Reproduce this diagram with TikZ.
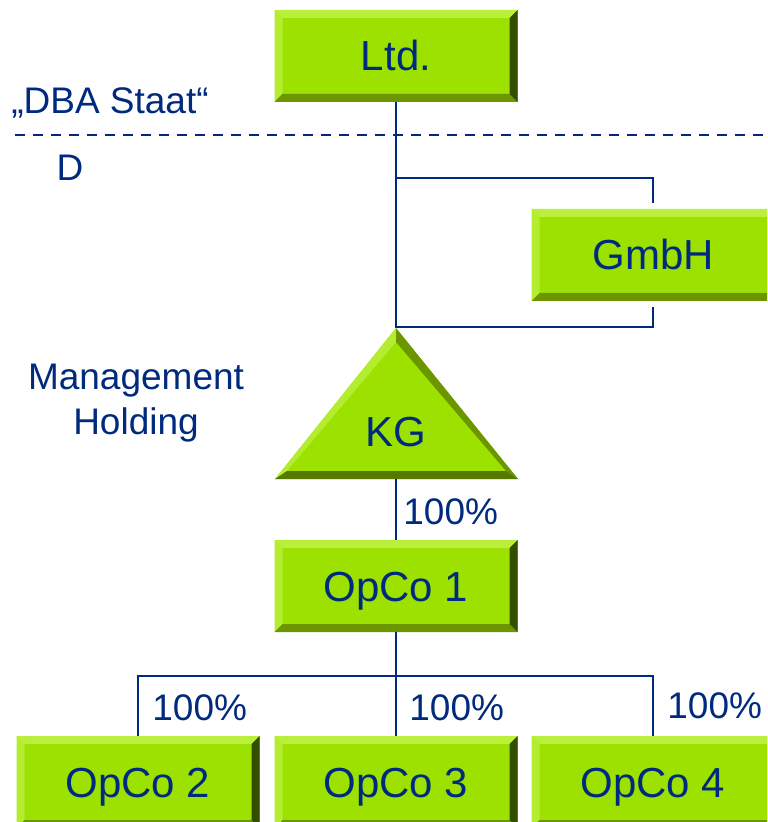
\documentclass[tikz,border=0pt]{standalone}
\usepackage{fontspec}
\setmainfont{Liberation Sans}
\definecolor{navy}{RGB}{0,42,125}
\definecolor{lime}{RGB}{156,225,0}
\definecolor{limelight}{RGB}{186,240,60}
\definecolor{limedark}{RGB}{108,150,0}
\definecolor{limedeep}{RGB}{52,78,0}
\tikzset{
  bevelcut/.style={
    path picture={
      \fill[limelight] (path picture bounding box.north west) -- (path picture bounding box.north east)
        -- ([shift={(0pt,-4pt)}]path picture bounding box.north east) -- ([shift={(4pt,-4pt)}]path picture bounding box.north west) -- cycle;
      \fill[limelight!80!lime] (path picture bounding box.north west) -- ([shift={(4pt,-4pt)}]path picture bounding box.north west)
        -- ([shift={(4pt,4pt)}]path picture bounding box.south west) -- (path picture bounding box.south west) -- cycle;
      \fill[limedark] (path picture bounding box.south west) -- (path picture bounding box.south east)
        -- ([shift={(0pt,4pt)}]path picture bounding box.south east) -- ([shift={(4pt,4pt)}]path picture bounding box.south west) -- cycle;
    }},
  bevel/.style={
    path picture={
      \fill[limelight] (path picture bounding box.north west) -- (path picture bounding box.north east)
        -- ([shift={(-4pt,-4pt)}]path picture bounding box.north east) -- ([shift={(4pt,-4pt)}]path picture bounding box.north west) -- cycle;
      \fill[limelight!80!lime] (path picture bounding box.north west) -- ([shift={(4pt,-4pt)}]path picture bounding box.north west)
        -- ([shift={(4pt,4pt)}]path picture bounding box.south west) -- (path picture bounding box.south west) -- cycle;
      \fill[limedark] (path picture bounding box.south west) -- (path picture bounding box.south east)
        -- ([shift={(-4pt,4pt)}]path picture bounding box.south east) -- ([shift={(4pt,4pt)}]path picture bounding box.south west) -- cycle;
      \fill[limedeep] (path picture bounding box.north east) -- (path picture bounding box.south east)
        -- ([shift={(-4pt,4pt)}]path picture bounding box.south east) -- ([shift={(-4pt,-4pt)}]path picture bounding box.north east) -- cycle;
    }},
  box/.style={bevel, fill=lime, minimum width=121.5pt, minimum height=46pt, inner sep=0pt,
    text height=15pt, text depth=0pt, text=navy, font=\fontsize{21}{25}\selectfont},
  lbl/.style={text=navy, inner sep=0pt, font=\fontsize{18.5}{22.5}\selectfont},
  conn/.style={draw=navy, line width=1pt},
}

\begin{document}
\begin{tikzpicture}[x=0.5pt,y=-0.5pt]
\useasboundingbox (0,0) rectangle (767,822);
\clip (0,0) rectangle (767,822);

% boxes
\draw (396,56) node[box](ltd) {Ltd.};
\draw (653,255) node[box,bevelcut](gmbh) {GmbH};
\draw (396,586) node[box](opco1) {OpCo 1};
\draw (138,782) node[box](opco2) {OpCo 2};
\draw (396,782) node[box](opco3) {OpCo 3};
\draw (653,782) node[box,bevelcut](opco4) {OpCo 4};

% KG triangle
\fill[lime] (396,328) -- (518,479) -- (275,479) -- cycle;
\fill[limelight!80!lime] (396,328) -- (275,479) -- (287,471) -- (396,342) -- cycle;
\fill[limedark] (396,328) -- (518,479) -- (506,471) -- (396,342) -- cycle;
\fill[limedark!80!black] (275,479) -- (518,479) -- (506,471) -- (287,471) -- cycle;
\draw (396,432) node[lbl,font=\fontsize{21}{25}\selectfont](kg) {KG};
\coordinate (apex) at (396,328);
\coordinate (kgbase) at (396,479);

% side texts
\draw (110,103) node[lbl](dba) {„DBA Staat“};
\draw (70,168) node[lbl](land) {D};
\draw (136,403) node[lbl,align=center](mgmt) {Management\\Holding};
\draw[navy, line width=1pt, dash pattern=on 5pt off 4pt] (15,135) -- (767,135);

% connectors
\coordinate (split) at (396,178);
\coordinate (join) at (396,327);
\coordinate (fork) at (396,676);
\draw[conn] (ltd) -- (apex);
\draw[conn, shorten >=3pt] (split) -| (gmbh.north);
\draw[conn, shorten <=3pt] (gmbh.south) |- (join);
\draw[conn] (kgbase) -- (opco1);
\draw[conn] (opco1) -- (opco3);
\draw[conn] (opco2.north) -- (opco2.north |- fork) -- (opco4.north |- fork) -- (opco4.north);

% shares
\draw (403,512) node[lbl,anchor=west](p1) {100\%};
\draw (152,708) node[lbl,anchor=west](p2) {100\%};
\draw (409,708) node[lbl,anchor=west](p3) {100\%};
\draw (667,706) node[lbl,anchor=west](p4) {100\%};
\end{tikzpicture}
\end{document}
